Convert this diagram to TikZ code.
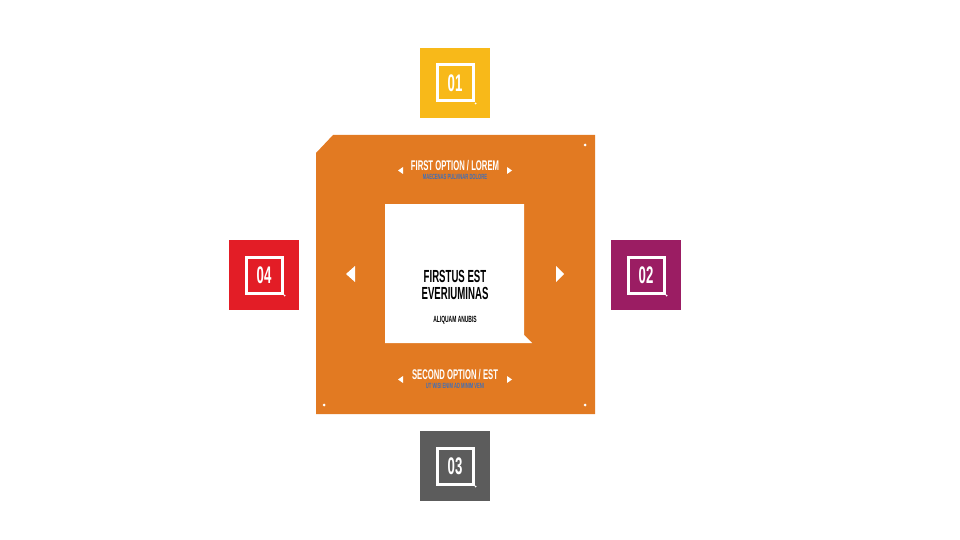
\documentclass[tikz,border=0pt]{standalone}
\usepackage{fontspec}
\setmainfont{Liberation Sans}
\newfontfamily\condfont[FakeStretch=0.55]{Liberation Sans}
\definecolor{orangebg}{HTML}{E27A22}
\definecolor{yellowbox}{HTML}{F8B919}
\definecolor{redbox}{HTML}{E31D26}
\definecolor{purplebox}{HTML}{9B1D63}
\definecolor{greybox}{HTML}{5C5C5C}
\definecolor{subblue}{HTML}{3F6FB8}
\begin{document}
\begin{tikzpicture}[x=1pt, y=-1pt,
        numbox/.style={minimum size=70pt, inner sep=0pt},
        numframe/.style={draw=white, line width=3pt, minimum size=36pt, inner sep=0pt, text=white, font=\condfont\bfseries\fontsize{24}{24}\selectfont},
        headtext/.style={text=white, font=\condfont\bfseries\fontsize{14}{14}\selectfont, inner sep=0pt},
        subtext/.style={text=subblue, font=\condfont\bfseries\fontsize{7.5}{8}\selectfont, inner sep=0pt},
        arrowtri/.style={fill=white},
        dot/.style={circle, fill=white, inner sep=0pt, minimum size=3pt}
    ]
    \useasboundingbox (0,0) rectangle (960,540);
    % Number boxes
    \node[numbox, fill=yellowbox] (B1) at (455,83) {};
    \node[numbox, fill=purplebox] (B2) at (646,275) {};
    \node[numbox, fill=greybox] (B3) at (455,466) {};
    \node[numbox, fill=redbox] (B4) at (264,275) {};
    \foreach \b/\n in {B1/01, B2/02, B3/03, B4/04} {
        \node[numframe] (F\n) at (\b) {\n};
        \node[circle, fill=white, inner sep=0pt, minimum size=2pt] at ([shift={(1,1)}]F\n.south east) {};
    }
    % Orange panel
    \fill[orangebg] (333,135) -- (595,135) -- (595,414) -- (316,414) -- (316,153) -- cycle;
    \node[dot] (D1) at (585,145) {};
    \node[dot] (D2) at (324,405) {};
    \node[dot] (D3) at (585,405) {};
    % White center
    \fill[white] (385,204) -- (524,204) -- (524,335) -- (532,343) -- (385,343) -- cycle;
    \node[align=center, font=\condfont\bfseries\fontsize{17.5}{16.5}\selectfont, inner sep=0pt] (T) at (455,285) {FIRSTUS EST\\EVERIUMINAS};
    \node[font=\condfont\bfseries\fontsize{9}{9}\selectfont, inner sep=0pt] (S) at (455,320) {ALIQUAM ANUBIS};
    % Option labels
    \node[headtext] (H1) at (455,166) {FIRST OPTION / LOREM};
    \node[subtext] (U1) at (455,177) {MAECENAS PULVINAR DOLORE};
    \node[headtext] (H2) at (455,375) {SECOND OPTION / EST};
    \node[subtext] (U2) at (455,386) {UT WISI ENIM AD MINIM VENI};
    % Arrows
    \fill[arrowtri] (346,274) -- (355,266) -- (355,282) -- cycle;
    \fill[arrowtri] (564,274) -- (556,266) -- (556,282) -- cycle;
    \fill[arrowtri] (398,170.5) -- (403,167) -- (403,174) -- cycle;
    \fill[arrowtri] (512,170.5) -- (507,167) -- (507,174) -- cycle;
    \fill[arrowtri] (398,379.5) -- (403,376) -- (403,383) -- cycle;
    \fill[arrowtri] (512,379.5) -- (507,376) -- (507,383) -- cycle;
\end{tikzpicture}
\end{document}
